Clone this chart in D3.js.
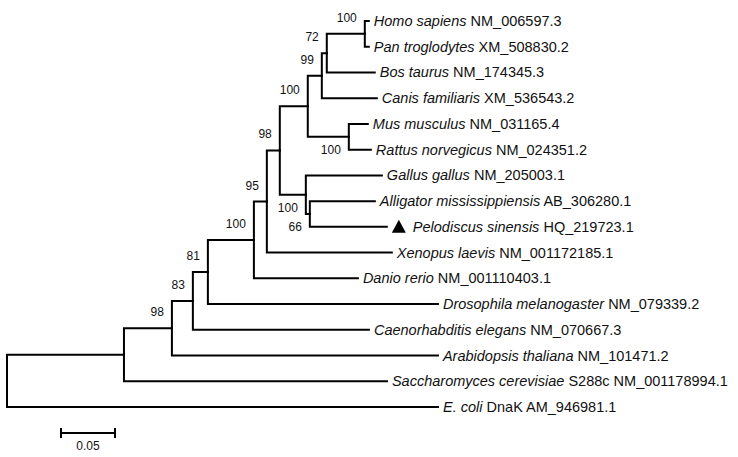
<!DOCTYPE html>
<html>
<head>
<meta charset="utf-8">
<script src="https://cdn.jsdelivr.net/npm/d3@7"></script>
<style>
  body { margin: 0; background: #fff; }
  svg { display: block; font-family: Arial, "Liberation Sans", sans-serif; }
</style>
</head>
<body>
<div id="chart"></div>
<script>
// tree topology: node id, parent id, branch length, bootstrap support
// children listed top to bottom
var ids      = ["root", "n1", "ecoli", "n2", "sacch", "n3", "arab", "n4", "caen", "n5", "dros", "n6", "danio", "n7", "xen", "mam", "saur", "n99", "mr", "n72", "canis", "hp", "bos", "homo", "pan", "mus", "rat", "gallus", "n66", "alli", "pelo"];
var parents  = ["",     "root", "root", "n1", "n1",  "n2", "n2",  "n3", "n3",  "n4", "n4",  "n5", "n5",   "n6", "n6",  "n7",  "n7",   "mam", "mam", "n99", "n99",  "n72", "n72", "hp",  "hp",  "mr",  "mr",  "saur",   "saur", "n66", "n66"];
var lengths  = [0, 0.1083, 0.3991, 0.0444, 0.2435, 0.0194, 0.2463, 0.0139, 0.1630, 0.0426, 0.2130, 0.0120, 0.0963, 0.0120, 0.1157, 0.0259, 0.0241, 0.0130, 0.0380, 0.0046, 0.0509, 0.0352, 0.0444, 0.0037, 0.0037, 0.0176, 0.0204, 0.0704, 0.0037, 0.0602, 0.0713];
var support  = [null, null, null, 98, null, 83, null, 81, null, 100, null, 95, null, 98, null, 100, 100, 99, 100, 72, null, 100, null, null, null, null, null, null, 66, null, null];

// leaf labels: [italic part, plain part]
var leafNames = {
    homo:   ["Homo sapiens", "NM_006597.3"],
    pan:    ["Pan troglodytes", "XM_508830.2"],
    bos:    ["Bos taurus", "NM_174345.3"],
    canis:  ["Canis familiaris", "XM_536543.2"],
    mus:    ["Mus musculus", "NM_031165.4"],
    rat:    ["Rattus norvegicus", "NM_024351.2"],
    gallus: ["Gallus gallus", "NM_205003.1"],
    alli:   ["Alligator mississippiensis", "AB_306280.1"],
    pelo:   ["Pelodiscus sinensis", "HQ_219723.1"],
    xen:    ["Xenopus laevis", "NM_001172185.1"],
    danio:  ["Danio rerio", "NM_001110403.1"],
    dros:   ["Drosophila melanogaster", "NM_079339.2"],
    caen:   ["Caenorhabditis elegans", "NM_070667.3"],
    arab:   ["Arabidopsis thaliana", "NM_101471.2"],
    sacch:  ["Saccharomyces cerevisiae", "S288c NM_001178994.1"],
    ecoli:  ["E. coli", "DnaK AM_946981.1"]
};
var marked = "pelo";
var scaleLength = 0.05;

// bootstrap values drawn below the node instead of above
var labelBelow = ["mr", "saur", "n66"];

var width = 738, height = 457;

var rows = ids.map(function (id, i) {
    return { id: id, parent: parents[i], length: lengths[i], support: support[i] };
});
var root = d3.stratify()
    .id(function (d) { return d.id; })
    .parentId(function (d) { return d.parent || null; })(rows);

// distance from root
root.eachBefore(function (n) {
    n.dist = n.parent ? n.parent.dist + n.data.length : 0;
});
var leaves = root.leaves();

var x = d3.scaleLinear().domain([0, 1]).range([7, 1087]);
var y = d3.scaleLinear().domain([0, leaves.length - 1]).range([21, 407]);

leaves.forEach(function (l, i) { l.order = i; });
root.eachAfter(function (n) {
    if (n.children) {
        n.order = (n.children[0].order + n.children[n.children.length - 1].order) / 2;
    }
});

var svg = d3.select("#chart").append("svg")
    .attr("width", width)
    .attr("height", height);

// branches
svg.append("g")
    .selectAll("path")
    .data(root.descendants().filter(function (n) { return n.parent; }))
    .enter().append("path")
    .attr("d", function (n) {
        return "M" + x(n.parent.dist) + "," + y(n.parent.order) +
            "V" + y(n.order) + "H" + x(n.dist);
    })
    .attr("fill", "none")
    .attr("stroke", "#000")
    .attr("stroke-width", 2)
    .attr("stroke-linejoin", "miter")
    .attr("stroke-linecap", "square");

// bootstrap values
svg.append("g")
    .selectAll("text")
    .data(root.descendants().filter(function (n) { return n.data.support != null; }))
    .enter().append("text")
    .attr("x", function (n) { return x(n.dist) - 8; })
    .attr("y", function (n) {
        return labelBelow.indexOf(n.id) > -1 ? y(n.order) + 17 : y(n.order) - 12;
    })
    .attr("text-anchor", "end")
    .attr("font-size", 12)
    .attr("fill", "#111")
    .text(function (n) { return n.data.support; });

// leaf labels
var lab = svg.append("g")
    .selectAll("text")
    .data(leaves)
    .enter().append("text")
    .attr("x", function (n) { return x(n.dist) + (n.id == marked ? 26 : 5); })
    .attr("y", function (n) { return y(n.order) + 5; })
    .attr("font-size", 14.5)
    .attr("fill", "#111");
lab.append("tspan")
    .attr("font-style", "italic")
    .text(function (n) { return leafNames[n.id][0]; });
lab.append("tspan")
    .text(function (n) { return " " + leafNames[n.id][1]; });

// marker triangle
var m = leaves.filter(function (n) { return n.id == marked; })[0];
var tx = x(m.dist) + 5, ty = y(m.order);
svg.append("path")
    .attr("d", "M" + tx + "," + (ty + 6) + "L" + (tx + 14) + "," + (ty + 6) + "L" + (tx + 7) + "," + (ty - 7) + "Z")
    .attr("fill", "#000");

// scale bar
var sx0 = 61, sx1 = sx0 + x(scaleLength) - x(0), sy = 433;
var bar = svg.append("g").attr("stroke", "#000").attr("stroke-width", 2);
bar.append("line").attr("x1", sx0).attr("x2", sx1).attr("y1", sy).attr("y2", sy);
bar.append("line").attr("x1", sx0).attr("x2", sx0).attr("y1", sy - 5).attr("y2", sy + 5);
bar.append("line").attr("x1", sx1).attr("x2", sx1).attr("y1", sy - 5).attr("y2", sy + 5);
svg.append("text")
    .attr("x", (sx0 + sx1) / 2)
    .attr("y", sy + 17)
    .attr("text-anchor", "middle")
    .attr("font-size", 12)
    .attr("fill", "#111")
    .text(scaleLength);
</script>
</body>
</html>
